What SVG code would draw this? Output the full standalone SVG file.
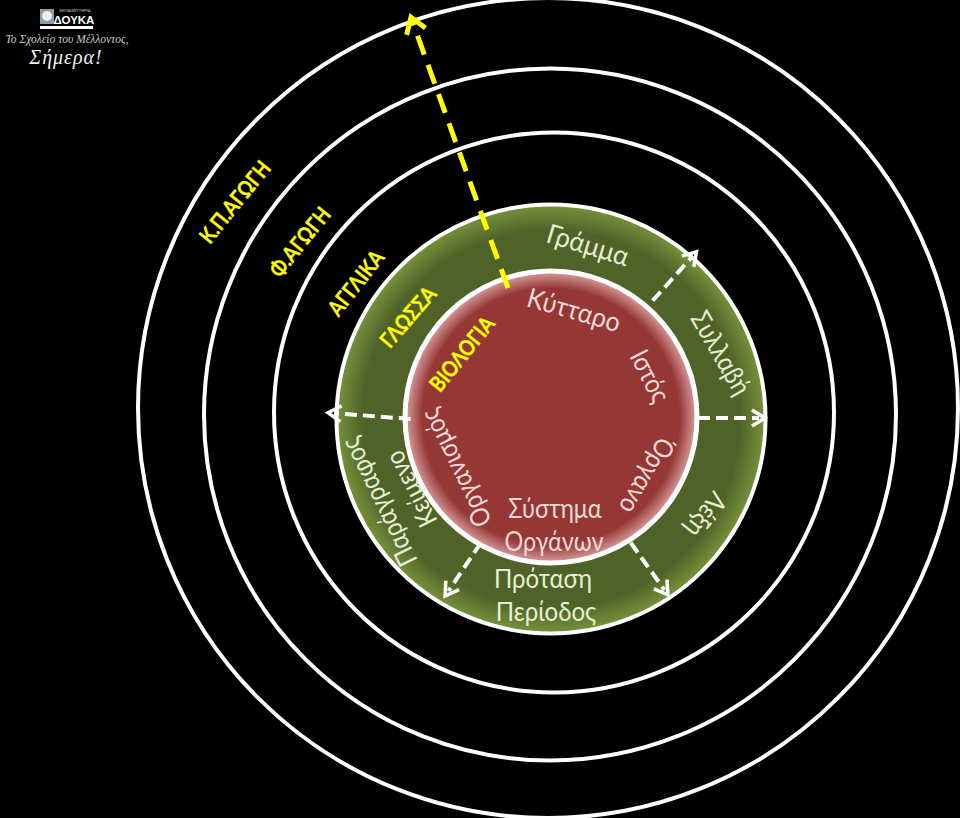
<svg xmlns="http://www.w3.org/2000/svg" width="960" height="818" viewBox="0 0 960 818">
<style>
.ring{fill:none;stroke:#fff;stroke-width:4}
text{font-family:"Lato","Open Sans","Noto Sans",sans-serif;text-anchor:middle}
.g{font-size:27px;fill:#e6efd2}
.r{font-size:27px;fill:#f2d9d8}
.y{font-size:22px;font-weight:700;fill:#ffff00;stroke:#ffff00;stroke-width:.3px}
.w{fill:none;stroke:#fff;stroke-width:4;stroke-dasharray:12 6}
.yl{fill:none;stroke:#ffff00;stroke-width:5;stroke-dasharray:20 11}
</style>
<defs>
<radialGradient id="gg"><stop offset="0" stop-color="#4f6228"/><stop offset=".88" stop-color="#4f6228"/><stop offset="1" stop-color="#76933c"/></radialGradient>
<radialGradient id="rg"><stop offset="0" stop-color="#953735"/><stop offset=".88" stop-color="#953735"/><stop offset="1" stop-color="#d9a0a0"/></radialGradient>
<marker id="wa" markerUnits="userSpaceOnUse" markerWidth="28" markerHeight="28" refX="12" refY="14" orient="auto"><path d="M5 6L18 14L5 22" fill="none" stroke="#fff" stroke-width="3.500"/></marker>
<marker id="ya" markerUnits="userSpaceOnUse" markerWidth="34" markerHeight="34" refX="14" refY="17" orient="auto"><path d="M5 7L20 17L5 27" fill="none" stroke="#ffff00" stroke-width="5"/></marker>
</defs>
<rect width="960" height="818" fill="#000"/>
<g id="logo">
<rect x="40" y="9" width="14" height="15" fill="#8d9aa8"/>
<circle cx="47" cy="16" r="5" fill="#e8edf0"/>
<text x="75" y="11.500" style="font-size:4px" fill="#ccc">ΕΚΠΑΙΔΕΥΤΗΡΙΑ</text>
<text x="74" y="24" style="font-size:11.500px;font-weight:700;font-family:'Liberation Sans',sans-serif" fill="#fff">ΔΟΥΚΑ</text>
<rect x="40" y="26" width="53" height="3" fill="#fff"/>
<text x="67" y="43" style="font-size:11.500px;font-style:italic;font-family:'Liberation Serif',serif" fill="#c8c8c8">Το Σχολείο του Μέλλοντος,</text>
<text x="66" y="64" style="font-size:20px;font-style:italic;letter-spacing:1px;font-family:'Liberation Serif',serif" fill="#f0f0f0">Σήμερα!</text>
</g>
<g id="ring-kp"><circle class="ring" cx="548" cy="408" r="410"/></g>
<g id="ring-f"><circle class="ring" cx="550" cy="414.500" r="346"/></g>
<g id="ring-a"><circle class="ring" cx="554" cy="412.500" r="280"/></g>
<g id="glossa"><circle cx="551" cy="419" r="214.500" fill="url(#gg)" stroke="#fff" stroke-width="4"/></g>
<g id="biologia"><circle cx="551" cy="417" r="146" fill="url(#rg)" stroke="#fff" stroke-width="5"/></g>
<g id="connectors">
<path class="yl" d="M508 288L413 23" marker-end="url(#ya)"/>
<path class="w" d="M652.700 300.700L692.500 256.300" marker-end="url(#wa)"/>
<path class="w" d="M698 418L759 418" marker-end="url(#wa)"/>
<path class="w" d="M630.700 542.700L664.500 590" marker-end="url(#wa)"/>
<path class="w" d="M480.700 543L448.500 591" marker-end="url(#wa)"/>
<path class="w" d="M410.700 419L334 413.200" marker-end="url(#wa)"/>
</g>
<g id="labels-yellow">
<text class="y" dy=".35em" transform="translate(235 202) rotate(-51) scale(.85 1)">Κ.Π.ΑΓΩΓΗ</text>
<text class="y" dy=".35em" transform="translate(300 242) rotate(-51) scale(.85 1)">Φ.ΑΓΩΓΗ</text>
<text class="y" dy=".35em" transform="translate(356 283) rotate(-52) scale(.85 1)">ΑΓΓΛΙΚΑ</text>
<text class="y" dy=".35em" transform="translate(408 317) rotate(-49) scale(.85 1)">ΓΛΩΣΣΑ</text>
<text class="y" dy=".35em" transform="translate(462 354) rotate(-51) scale(.85 1)">ΒΙΟΛΟΓΙΑ</text>
</g>
<g id="labels-green">
<text class="g" dy=".35em" transform="translate(588 245) rotate(17) scale(.95 1)">Γράμμα</text>
<text class="g" dy=".35em" transform="translate(721 353) rotate(60) scale(.87 1)">Συλλαβή</text>
<text class="g" dy=".35em" transform="translate(706 515) rotate(128) scale(.87 1)">Λέξη</text>
<text class="g" transform="translate(543 588) scale(.89 1)">Πρόταση</text>
<text class="g" transform="translate(546 621) scale(.89 1)">Περίοδος</text>
<text class="g" dy=".35em" transform="translate(411 489) rotate(-117) scale(.87 1)">Κείμενο</text>
<text class="g" dy=".35em" transform="translate(379 502) rotate(-116) scale(.87 1)">Παράγραφος</text>
</g>
<g id="labels-red">
<text class="r" dy=".35em" transform="translate(574 310) rotate(16) scale(.93 1)">Κύτταρο</text>
<text class="r" dy=".35em" transform="translate(650 376) rotate(63) scale(.87 1)">Ιστός</text>
<text class="r" dy=".35em" transform="translate(647 476) rotate(120) scale(.87 1)">Όργανο</text>
<text class="r" transform="translate(555 518) scale(.87 1)">Σύστημα</text>
<text class="r" transform="translate(554 551) scale(.87 1)">Οργάνων</text>
<text class="r" dy=".35em" transform="translate(456 468) rotate(-116) scale(.87 1)">Οργανισμός</text>
</g>
</svg>
